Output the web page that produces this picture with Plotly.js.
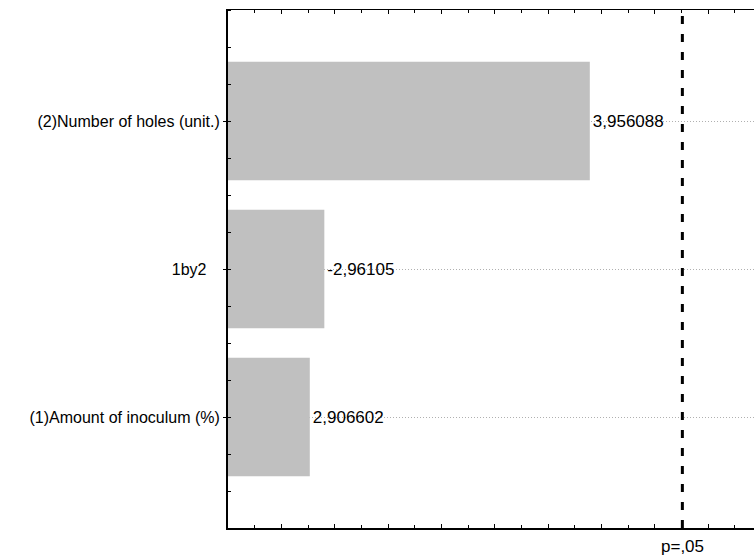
<!DOCTYPE html>
<html>
<head>
<meta charset="utf-8">
<script src="https://cdn.plot.ly/plotly-3.0.1.min.js"></script>
<style>html,body{margin:0;padding:0;background:#fff;}#chart{width:754px;height:557px;}</style>
</head>
<body>
<div id="chart"></div>
<script>
// Pareto chart of standardized effects (bottom to top)
const factors = ["(1)Amount of inoculum (%)", "1by2", "(2)Number of holes (unit.)"];
const effects = [2.906602, -2.96105, 3.956088];
const effectLabels = ["2,906602", "-2,96105", "3,956088"];
const pCritical = 4.303;
const pLabel = "p=,05";

const positions = factors.map((f, i) => i);
const magnitudes = effects.map(v => Math.abs(v));
// the reference sets the short label a little further from the axis
const tickText = factors.map(f => f.length < 8 ? f + "\u00a0\u00a0\u00a0" : f);

const font = {family: "Liberation Sans, Arial, sans-serif", size: 16, color: "#000"};
const valFont = {family: "Liberation Sans, Arial, sans-serif", size: 17, color: "#000"};

const trace = {
  type: "bar",
  orientation: "h",
  x: magnitudes,
  y: positions,
  width: 0.8,
  marker: {color: "#c0c0c0", line: {width: 0}},
  text: effectLabels,
  textposition: "outside",
  textfont: valFont,
  cliponaxis: false,
  hoverinfo: "none"
};

const layout = {
  width: 754, height: 557,
  margin: {l: 228, r: 0, t: 10, b: 29},
  paper_bgcolor: "#fff", plot_bgcolor: "#fff",
  showlegend: false,
  font: font,
  bargap: 0.2,
  xaxis: {
    range: [2.6, 4.5715],
    showgrid: false, zeroline: false,
    showline: true, linecolor: "#000", linewidth: 1.5,
    mirror: "ticks",
    ticks: "inside", ticklen: 4, tickwidth: 1, tickcolor: "#000",
    dtick: 0.2, tick0: 2.6,
    minor: {dtick: 0.1, ticks: "inside", ticklen: 3, tickcolor: "#000", showgrid: false},
    showticklabels: false
  },
  yaxis: {
    range: [-0.75, 2.75],
    tickvals: positions, ticktext: tickText,
    showgrid: true, gridcolor: "#b0b0b0", gridwidth: 1, griddash: "1px,2px",
    zeroline: false,
    showline: true, linecolor: "#000", linewidth: 2,
    ticks: "outside", ticklen: 3, tickcolor: "#000",
    minor: {dtick: 0.25, tick0: 0, ticks: "inside", ticklen: 3, tickcolor: "#000", showgrid: false},
    tickfont: font
  },
  shapes: [{
    type: "line", xref: "x", yref: "paper",
    x0: pCritical, x1: pCritical, y0: 0, y1: 1,
    line: {color: "#000", width: 3, dash: "8px,10px"}
  }],
  annotations: [{
    xref: "x", yref: "paper", x: pCritical, y: 0, yshift: -7,
    xanchor: "center", yanchor: "top",
    text: pLabel, showarrow: false, font: valFont
  }]
};

Plotly.newPlot("chart", [trace], layout, {staticPlot: true});
</script>
</body>
</html>
